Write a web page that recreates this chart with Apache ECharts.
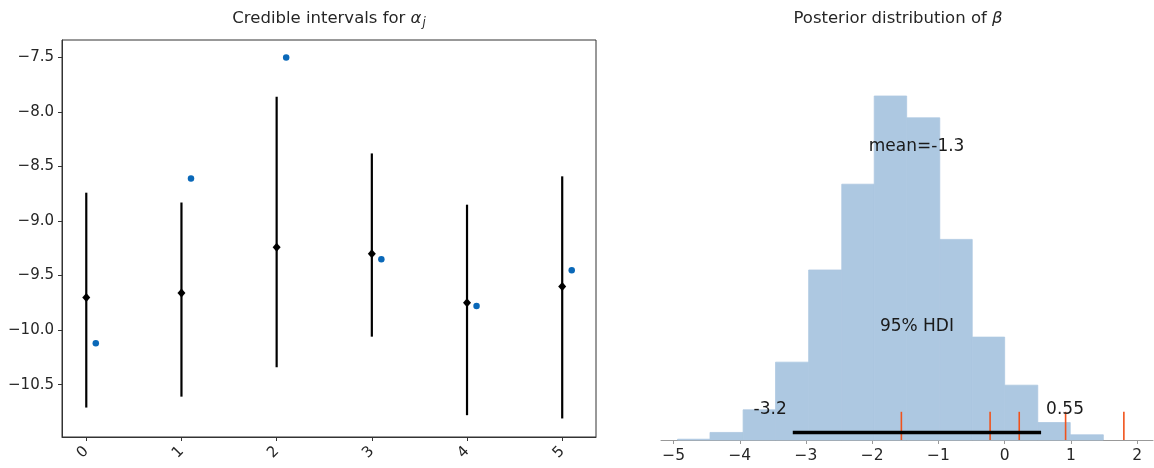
<!DOCTYPE html>
<html>
<head>
<meta charset="utf-8">
<title>Credible intervals and posterior of beta</title>
<script src="https://cdn.jsdelivr.net/npm/echarts@6/dist/echarts.min.js"></script>
<style>
  html, body { margin: 0; padding: 0; background: #ffffff; }
  #chart { width: 1154px; height: 468px; }
</style>
</head>
<body>
<div id="chart"></div>
<script>
// ---- Group intercepts alpha_j: posterior mean, credible interval, observed estimate ----
const groups = [0, 1, 2, 3, 4, 5];
const alphaMean = [-9.70, -9.66, -9.24, -9.30, -9.75, -9.60];
const alphaLow = [-10.71, -10.61, -10.34, -10.06, -10.78, -10.81];
const alphaHigh = [-8.74, -8.83, -7.86, -8.38, -8.85, -8.59];
const alphaObserved = [-10.12, -8.61, -7.50, -9.35, -9.78, -9.45];
const observedOffset = 0.1;
const alphaTicks = [-10.5, -10.0, -9.5, -9.0, -8.5, -8.0, -7.5];

// ---- Slope beta: histogram of posterior draws ----
const betaEdges = [-4.94, -4.45, -3.95, -3.46, -2.96, -2.46, -1.97, -1.48, -0.98, -0.49, 0.00, 0.50, 0.99, 1.49];
const betaCounts = [2, 19, 76, 196, 428, 644, 866, 811, 505, 259, 138, 44, 13];
const betaMean = -1.33;
const betaHdi = [-3.2, 0.55];
const betaHdiLevel = 19;
const betaMarks = [-1.56, -0.22, 0.22, 0.92, 1.80];
const betaMarkHeight = 71;
const betaTicks = [-5, -4, -3, -2, -1, 0, 1, 2];

const FONT = 'DejaVu Sans';
const TEXT = '#262626';
const HIST = '#adc8e1';
const minus = s => String(s).replace('-', '\u2212');
const twoSig = v => String(Number(v.toPrecision(2)));

const alphaIntervals = groups.map((g, i) => [g, alphaLow[i], alphaHigh[i]]);
const alphaMeanPts = groups.map((g, i) => [g, alphaMean[i]]);
const alphaObsPts = groups.map((g, i) => [g + observedOffset, alphaObserved[i]]);
const betaBins = betaCounts.map((c, i) => [betaEdges[i], betaEdges[i + 1], c]);
const betaMarkSegs = betaMarks.map(v => [v, 0, betaMarkHeight]);

// text annotations on the beta panel: x value, pixel lift above the baseline, alignment, x nudge
const betaNotes = [
  { x: betaMean, lift: 293, text: 'mean=' + twoSig(betaMean), align: 'center', dx: 0 },
  { x: (betaHdi[0] + betaHdi[1]) / 2, lift: 113, text: '95% HDI', align: 'center', dx: 0 },
  { x: betaHdi[0], lift: 30, text: twoSig(betaHdi[0]), align: 'right', dx: -6 },
  { x: betaHdi[1], lift: 30, text: twoSig(betaHdi[1]), align: 'left', dx: 5 }
];

const chart = echarts.init(document.getElementById('chart'), null, { renderer: 'canvas' });

const option = {
  animation: false,
  backgroundColor: '#ffffff',
  textStyle: { fontFamily: FONT },
  graphic: [
    {
      type: 'text', x: 329, y: 19,
      style: {
        text: 'Credible intervals for {a|α}{s|j}',
        fontFamily: FONT, fontSize: 16.5, fill: TEXT,
        align: 'center', verticalAlign: 'middle',
        rich: {
          a: { fontFamily: FONT, fontSize: 16.5, fontStyle: 'italic', fill: TEXT },
          s: { fontFamily: FONT, fontSize: 11.5, fontStyle: 'italic', fill: TEXT, padding: [9, 0, 0, 1], lineHeight: 12 }
        }
      }
    },
    {
      type: 'text', x: 898, y: 19,
      style: {
        text: 'Posterior distribution of {b|β}',
        fontFamily: FONT, fontSize: 16.5, fill: TEXT,
        align: 'center', verticalAlign: 'middle',
        rich: {
          b: { fontFamily: FONT, fontSize: 16.5, fontStyle: 'italic', fill: TEXT }
        }
      }
    }
  ],
  grid: [
    { left: 62, top: 40, width: 534, height: 397, show: true, borderColor: '#333', borderWidth: 1, backgroundColor: 'transparent' },
    { left: 661, top: 40, width: 492, height: 400 }
  ],
  xAxis: [
    {
      gridIndex: 0, type: 'value', min: -0.255, max: 5.355,
      axisLine: { show: true, onZero: false, lineStyle: { color: '#333', width: 1 } },
      axisTick: { show: true, customValues: groups, length: 4, lineStyle: { color: '#333' } },
      axisLabel: {
        customValues: groups, rotate: 45, fontSize: 15, color: TEXT, fontFamily: FONT, margin: 12
      },
      splitLine: { show: false }
    },
    {
      gridIndex: 1, type: 'value', min: -5.19, max: 2.24,
      axisLine: { show: true, onZero: false, lineStyle: { color: '#999', width: 1 } },
      axisTick: { show: true, customValues: betaTicks, length: 4, lineStyle: { color: '#999' } },
      axisLabel: {
        customValues: betaTicks, fontSize: 15.5, color: TEXT, fontFamily: FONT, margin: 8,
        formatter: v => minus(v)
      },
      splitLine: { show: false }
    }
  ],
  yAxis: [
    {
      gridIndex: 0, type: 'value', min: -10.98, max: -7.34,
      axisLine: { show: true, onZero: false, lineStyle: { color: '#333', width: 1 } },
      axisTick: { show: true, customValues: alphaTicks, length: 4, lineStyle: { color: '#333' } },
      axisLabel: {
        customValues: alphaTicks, fontSize: 15, color: TEXT, fontFamily: FONT, margin: 8,
        formatter: v => minus(v.toFixed(1))
      },
      splitLine: { show: false }
    },
    {
      gridIndex: 1, type: 'value', min: 0, max: 1007, show: false,
      splitLine: { show: false }
    }
  ],
  series: [
    {
      // vertical credible interval bars
      type: 'custom', xAxisIndex: 0, yAxisIndex: 0,
      data: alphaIntervals,
      encode: { x: 0, y: [1, 2] },
      renderItem: (params, api) => {
        const a = api.coord([api.value(0), api.value(1)]);
        const b = api.coord([api.value(0), api.value(2)]);
        return {
          type: 'line',
          shape: { x1: a[0], y1: a[1], x2: b[0], y2: b[1] },
          style: { stroke: '#000000', lineWidth: 2.2 }
        };
      },
      z: 2
    },
    {
      type: 'scatter', xAxisIndex: 0, yAxisIndex: 0,
      data: alphaMeanPts,
      symbol: 'diamond', symbolSize: [8, 9],
      itemStyle: { color: '#000000', opacity: 1 },
      z: 3
    },
    {
      type: 'scatter', xAxisIndex: 0, yAxisIndex: 0,
      data: alphaObsPts,
      symbol: 'circle', symbolSize: 6.5,
      itemStyle: { color: '#0a68b8', opacity: 1 },
      z: 3
    },
    {
      // histogram of beta draws
      type: 'custom', xAxisIndex: 1, yAxisIndex: 1,
      data: betaBins,
      encode: { x: [0, 1], y: 2 },
      renderItem: (params, api) => {
        const tl = api.coord([api.value(0), api.value(2)]);
        const br = api.coord([api.value(1), 0]);
        return {
          type: 'rect',
          shape: { x: tl[0], y: tl[1], width: br[0] - tl[0], height: br[1] - tl[1] },
          style: { fill: HIST, stroke: HIST, lineWidth: 0.8 }
        };
      },
      z: 1
    },
    {
      // short reference marks rising from the baseline
      type: 'custom', xAxisIndex: 1, yAxisIndex: 1,
      data: betaMarkSegs,
      encode: { x: 0, y: [1, 2] },
      renderItem: (params, api) => {
        const a = api.coord([api.value(0), api.value(1)]);
        const b = api.coord([api.value(0), api.value(2)]);
        return {
          type: 'line',
          shape: { x1: a[0], y1: a[1], x2: b[0], y2: b[1] },
          style: { stroke: '#f0531c', lineWidth: 1.6 }
        };
      },
      z: 4
    },
    {
      // highest density interval bar
      type: 'line', xAxisIndex: 1, yAxisIndex: 1,
      data: [[betaHdi[0], betaHdiLevel], [betaHdi[1], betaHdiLevel]],
      symbol: 'none',
      lineStyle: { color: '#000000', width: 3.5, cap: 'butt' },
      z: 5
    },
    {
      // text annotations for mean and HDI
      type: 'custom', xAxisIndex: 1, yAxisIndex: 1,
      data: betaNotes.map((n, i) => [n.x, 0, i]),
      encode: { x: 0, y: 1 },
      renderItem: (params, api) => {
        const note = betaNotes[api.value(2)];
        const p = api.coord([note.x, 0]);
        return {
          type: 'text',
          x: p[0] + note.dx, y: p[1] - note.lift,
          style: {
            text: note.text, fontFamily: FONT, fontSize: 17, fill: '#1a1a1a',
            align: note.align, verticalAlign: 'middle'
          }
        };
      },
      z: 6
    }
  ]
};

chart.setOption(option);
</script>
</body>
</html>
